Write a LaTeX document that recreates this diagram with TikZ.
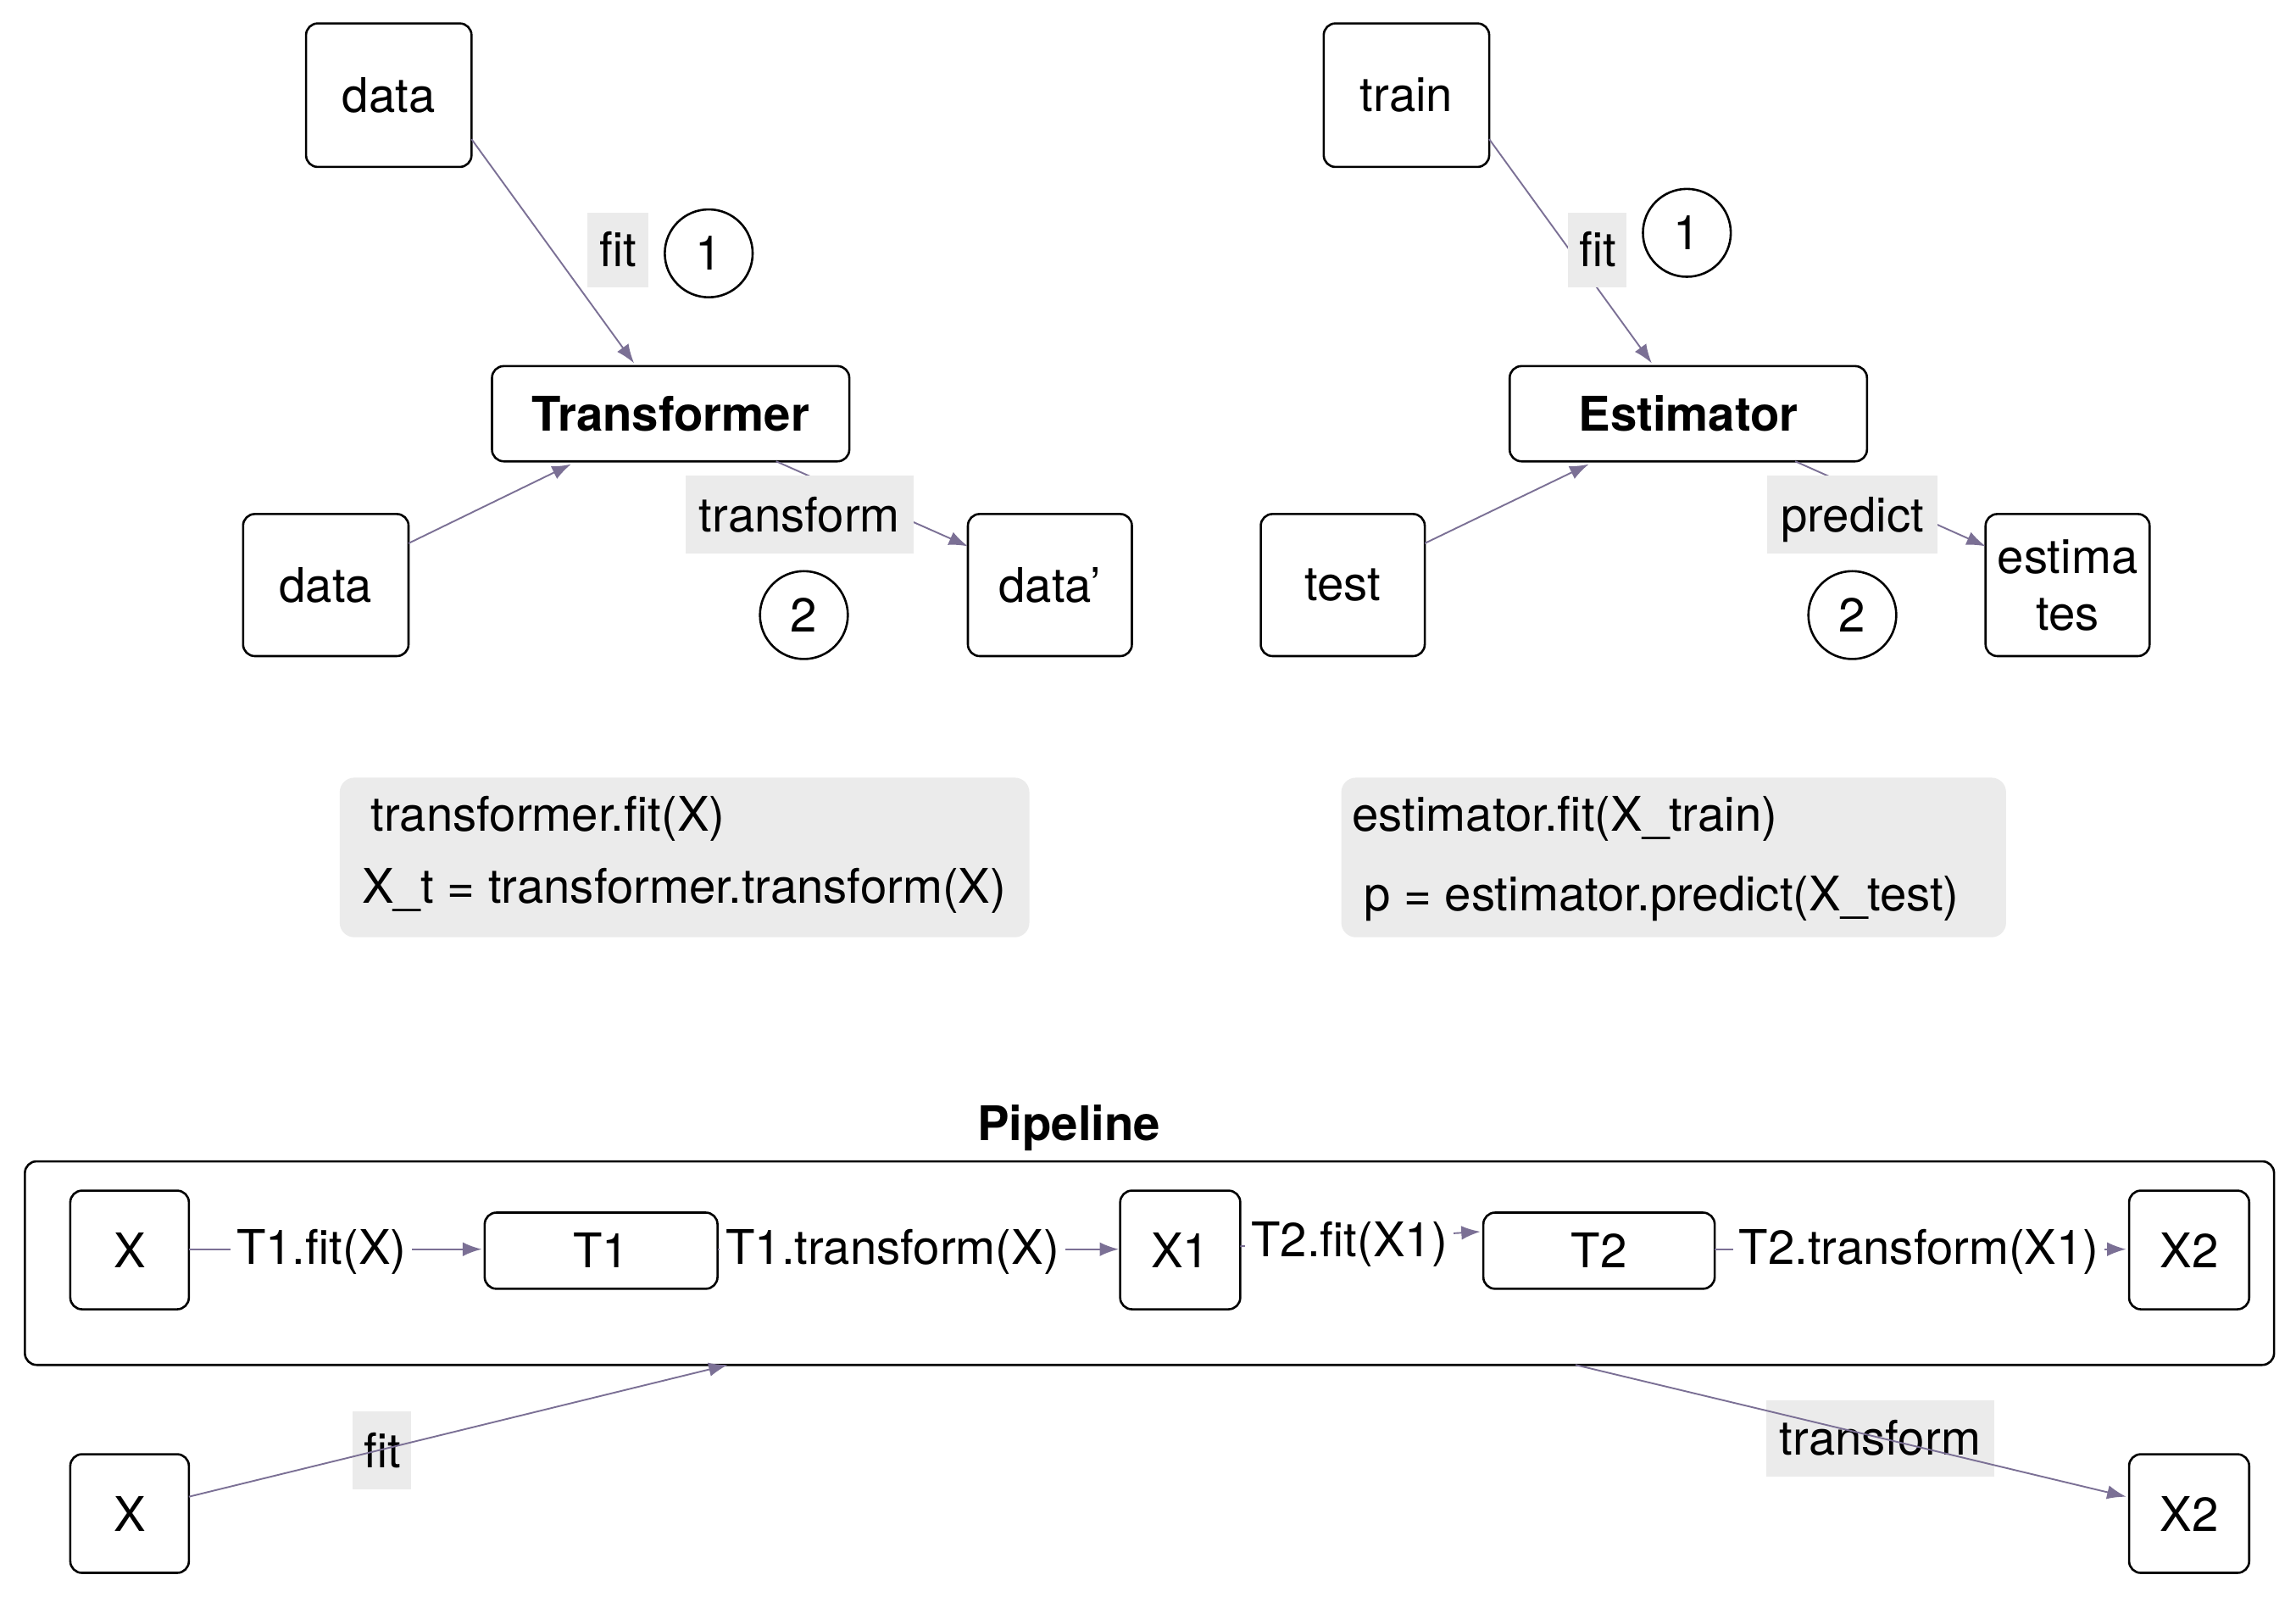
\documentclass[tikz,border=0pt]{standalone}
\usepackage{fontspec}
\setmainfont{TeX Gyre Heros}
\usetikzlibrary{arrows.meta,calc}
\definecolor{arr}{HTML}{7B7095}
\definecolor{lbl}{HTML}{EBEBEB}
\begin{document}
\begin{tikzpicture}[x=0.5pt,y=-0.5pt,
  font=\fontsize{16.3}{19.5}\selectfont,
  box/.style={draw=black,line width=0.75pt,rounded corners=4pt,inner sep=0pt,outer sep=0pt,align=center},
  lab/.style={fill=lbl,inner sep=0pt,outer sep=0pt,text height=11.7pt,text depth=0pt},
  num/.style={draw=black,circle,line width=0.75pt,minimum size=30pt,inner sep=0pt},
  conn/.style={draw=arr,line width=0.55pt,-{Latex[length=6.5pt,width=4.8pt]}},
  code/.style={fill=lbl,rounded corners=5pt,inner sep=0pt},
  txt/.style={inner sep=0pt,text height=9.8pt,text depth=0pt},
  plab/.style={fill=white,inner xsep=2pt,inner ysep=1pt,text height=12.3pt,text depth=2pt},
  bold/.style={font=\fontsize{16.3}{19.5}\selectfont\bfseries}
]
\useasboundingbox (0,0) rectangle (1568,1090);

% ---------- Transformer ----------
\node[box,minimum width=56.5pt,minimum height=49pt] (d1) at (265.5,65) {data};
\node[box,bold,minimum width=122pt,minimum height=32.5pt] (tr) at (458,282.5) {Transformer};
\node[box,minimum width=56.5pt,minimum height=48.5pt] (d2) at (222.5,399.5) {data};
\node[box,minimum width=56pt,minimum height=48.5pt] (d3) at (717,399.5) {data’};
\node[num] (c1) at (484,173) {1};
\node[num] (c2) at (549,420) {2};

\draw[conn] ($(d1.east)+(0,30)$) -- ($(tr.north)+(-25,-2)$);
\draw[conn] ($(d2.east)+(0,-28.5)$) -- ($(tr.south)+(-68,2)$);
\draw[conn] ($(tr.south)+(72,0)$) -- ($(d3.west)+(0,-26.5)$);
\node[lab,minimum width=21pt,minimum height=25.5pt] (f1) at (422,170.5) {fit};
\node[lab,minimum width=78pt,minimum height=26.5pt] (tl1) at (546,351.5) {transform};

% ---------- Estimator ----------
\node[box,minimum width=56.5pt,minimum height=49pt] (train) at (960.5,65) {train};
\node[box,bold,minimum width=122pt,minimum height=32.5pt] (est) at (1153,282.5) {Estimator};
\node[box,minimum width=56pt,minimum height=48.5pt] (test) at (917,399.5) {test};
\node[box,minimum width=56pt,minimum height=48.5pt] (estim) at (1412,399.5) {estima\\tes};
\node[num] (c3) at (1152,159) {1};
\node[num] (c4) at (1265,420) {2};

\draw[conn] ($(train.east)+(0,30)$) -- ($(est.north)+(-25,-2)$);
\draw[conn] ($(test.east)+(0,-28.5)$) -- ($(est.south)+(-68,2)$);
\draw[conn] ($(est.south)+(73,0)$) -- ($(estim.west)+(0,-26.5)$);
\node[lab,minimum width=20pt,minimum height=25.5pt] (f2) at (1091,170.5) {fit};
\node[lab,minimum width=58pt,minimum height=26.5pt] (pl2) at (1265,351.5) {predict};

% ---------- code boxes ----------
\node[code,minimum width=235.5pt,minimum height=54.5pt] (cb1) at (467.5,585.5) {};
\node[txt,anchor=west] (cb1a) at (253,558) {transformer.fit(X)};
\node[txt,anchor=west] (cb1b) at (247,607) {X\_t = transformer.transform(X)};
\node[code,minimum width=227pt,minimum height=54.5pt] (cb2) at (1143,585.5) {};
\node[txt,anchor=west] (cb2a) at (923,558) {estimator.fit(X\_train)};
\node[txt,anchor=west] (cb2b) at (931,612) {p = estimator.predict(X\_test)};

% ---------- Pipeline ----------
\node[bold] (ptitle) at (730,770) {Pipeline};
\node[box,minimum width=768pt,minimum height=69.5pt] (pl) at (785,862.5) {};
\node[box,minimum width=40.5pt,minimum height=40.5pt] (px) at (88.5,853.5) {X};
\node[box,minimum width=79.5pt,minimum height=26pt] (pt1) at (410.5,854) {T1};
\node[box,minimum width=41pt,minimum height=40.5pt] (px1) at (806,853.5) {X1};
\node[box,minimum width=79pt,minimum height=26pt] (pt2) at (1092,854) {T2};
\node[box,minimum width=41pt,minimum height=40.5pt] (px2) at (1495,853.5) {X2};

\draw[conn] ($(px.east)+(0,-0.5)$) -- ($(pt1.west)+(-2,-1)$);
\draw[conn] ($(pt1.east)+(0,-1)$) -- ($(px1.west)+(-1,-0.5)$);
\draw[conn] ($(px1.east)+(0,-2.5)$) -- ($(pt2.west)+(-2,-13)$);
\draw[conn] ($(pt2.east)+(0,-1)$) -- ($(px2.west)+(-2,-0.5)$);
\node[plab] (l1) at (219.5,853) {T1.fit(X)};
\node[plab] (l2) at (609.5,853) {T1.transform(X)};
\node[plab] (l3) at (921.5,848) {T2.fit(X1)};
\node[plab] (l4) at (1310.5,853) {T2.transform(X1)};

% ---------- bottom ----------
\node[box,minimum width=40.5pt,minimum height=40.5pt] (bx) at (88.5,1033.5) {X};
\node[box,minimum width=41pt,minimum height=40.5pt] (bx2) at (1495,1033.5) {X2};
\node[lab,minimum width=20pt,minimum height=26.5pt] (bfit) at (261,990.5) {fit};
\node[lab,minimum width=78pt,minimum height=26pt] (btr) at (1284,982) {transform};
\draw[conn] ($(bx.east)+(0,-11.5)$) -- ($(pl.south)+(-288,0)$);
\draw[conn] ($(pl.south)+(291,0)$) -- ($(bx2.west)+(-2,-11.5)$);
\end{tikzpicture}
\end{document}
